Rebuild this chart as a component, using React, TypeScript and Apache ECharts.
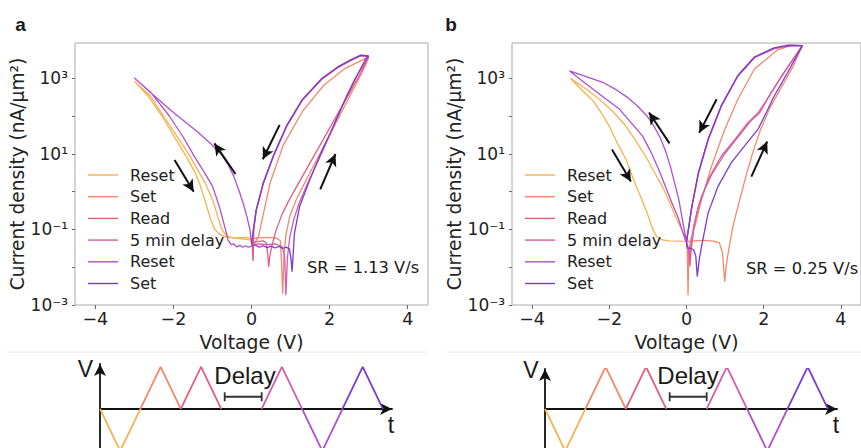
import { useEffect, useRef } from "react";
import * as echarts from "echarts";

// [voltage (V), log10 of current density (nA/µm²)]
type Pt = [number, number];

const FONT = "'DejaVu Sans', 'Noto Sans', sans-serif";
const SANS = "'Liberation Sans', Arial, sans-serif";

const sweepLabels = ["Reset", "Set", "Read", "5 min delay", "Reset", "Set"];
const sweepColors = ["#f8b150", "#f3896a", "#e35f7e", "#d25db0", "#b04fcf", "#7c3bcf"];
const voltageTicks = [-4, -2, 0, 2, 4];
const sweepRates = ["SR = 1.13 V/s", "SR = 0.25 V/s"];
const LOG_MIN = -3;
const LOG_MAX = 3.94;

// ---- panel a, SR = 1.13 V/s ----
const aReset1: Pt[] = [
  [0, -1.28], [-0.25, -1.25], [-0.5, -1.22], [-0.65, -1.15], [-0.75, -1.02], [-0.85, -0.72],
  [-0.97, -0.28], [-1.18, 0.22], [-1.4, 0.62], [-1.57, 0.93], [-1.85, 1.38], [-2.2, 1.92],
  [-2.6, 2.55], [-3, 2.93],
  [-2.66, 2.55], [-2.29, 2.0], [-2.0, 1.5], [-1.67, 0.93], [-1.45, 0.52], [-1.33, 0.22],
  [-1.17, -0.3], [-1.05, -0.72], [-0.95, -0.98], [-0.82, -1.13], [-0.65, -1.2], [-0.4, -1.22],
  [-0.15, -1.21], [0, -1.24],
];
const aSet1: Pt[] = [
  [0, -1.24], [0.2, -1.22], [0.45, -1.21], [0.65, -1.23], [0.74, -1.3], [0.77, -1.9], [0.8, -2.7],
  [0.83, -1.7], [0.88, -1.15], [0.98, -0.65], [1.15, -0.2], [1.42, 0.35], [1.7, 0.9], [2.0, 1.5],
  [2.3, 2.1], [2.6, 2.7], [2.85, 3.2], [3, 3.55],
  [2.94, 3.54], [2.4, 3.27], [1.85, 2.82], [1.3, 2.12], [0.82, 1.25], [0.48, 0.25], [0.28, -0.7],
  [0.18, -1.18], [0.1, -1.33], [0.05, -1.38], [0.04, -1.85], [0.02, -1.38], [0, -1.36],
];
const aRead: Pt[] = [
  [0, -1.36], [0.15, -1.32], [0.3, -1.3], [0.38, -1.36], [0.42, -1.7], [0.44, -1.99], [0.47, -1.7],
  [0.52, -1.45], [0.62, -1.05], [0.78, -0.6], [1.0, -0.15], [1.3, 0.4], [1.6, 0.95], [1.9, 1.5],
  [2.2, 2.05], [2.5, 2.6], [2.8, 3.15], [3, 3.58],
  [2.8, 3.6], [2.55, 3.48], [2.2, 3.28], [1.8, 2.98], [1.3, 2.42], [0.9, 1.73], [0.57, 0.96],
  [0.3, 0.21], [0.12, -0.5], [0.06, -1.0], [0.05, -1.4], [0.04, -1.8], [0.02, -1.4], [0, -1.4],
];
const aDelay: Pt[] = [
  [0, -1.4], [0.2, -1.38], [0.4, -1.4], [0.6, -1.38], [0.78, -1.45], [0.85, -1.7], [0.88, -2.74],
  [0.92, -1.75], [0.98, -1.2], [1.08, -0.75], [1.22, -0.3], [1.45, 0.25], [1.72, 0.85], [2.0, 1.5],
  [2.32, 2.25], [2.63, 2.95], [2.87, 3.35], [3, 3.58],
  [2.8, 3.61], [2.55, 3.49], [2.2, 3.29], [1.8, 2.99], [1.3, 2.43], [0.9, 1.74], [0.57, 0.97],
  [0.3, 0.22], [0.12, -0.5], [0.05, -1.0], [0.02, -1.38], [0, -1.38],
];
const aReset2: Pt[] = [
  [0, -1.38], [-0.04, -1.0], [-0.12, -0.65], [-0.2, -0.35], [-0.31, 0.0], [-0.45, 0.4],
  [-0.6, 0.72], [-0.78, 1.0], [-1.05, 1.28], [-1.4, 1.6], [-2.0, 2.1], [-2.5, 2.55], [-3, 3.01],
  [-2.57, 2.62], [-2.1, 2.0], [-1.75, 1.45], [-1.46, 0.93], [-1.2, 0.5], [-1.0, 0.15],
  [-0.82, -0.4], [-0.68, -0.95], [-0.6, -1.28], [-0.52, -1.4], [-0.45, -1.38], [-0.38, -1.46],
  [-0.3, -1.42], [-0.22, -1.47], [-0.15, -1.43], [-0.08, -1.47], [0, -1.44],
];
const aSet2: Pt[] = [
  [0, -1.44], [0.1, -1.41], [0.2, -1.47], [0.3, -1.43], [0.4, -1.48], [0.5, -1.44], [0.6, -1.49],
  [0.7, -1.45], [0.8, -1.5], [0.9, -1.47], [0.97, -1.52], [1.01, -1.75], [1.04, -2.12],
  [1.07, -1.6], [1.1, -1.1], [1.23, -0.4], [1.49, 0.31], [1.74, 0.93], [2.09, 1.72], [2.43, 2.52],
  [2.73, 3.14], [2.94, 3.54], [3, 3.6],
  [2.8, 3.62], [2.55, 3.5], [2.2, 3.3], [1.8, 3.0], [1.3, 2.44], [0.9, 1.75], [0.57, 0.98],
  [0.3, 0.23], [0.12, -0.48], [0.05, -1.0], [0, -1.38],
];

// ---- panel b, SR = 0.25 V/s ----
const bReset1: Pt[] = [
  [0, -1.3], [-0.03, -1.27], [-0.15, -0.95], [-0.29, -0.65], [-0.45, -0.25], [-0.63, 0.15],
  [-0.85, 0.55], [-1.06, 0.94], [-1.3, 1.33], [-1.57, 1.74], [-1.9, 2.12], [-2.26, 2.45],
  [-2.6, 2.72], [-3, 3.0],
  [-2.7, 2.68], [-2.43, 2.42], [-2.2, 2.08], [-2.0, 1.74], [-1.8, 1.3], [-1.57, 0.86],
  [-1.4, 0.4], [-1.23, -0.03], [-1.1, -0.35], [-1.02, -0.56], [-0.89, -0.95], [-0.78, -1.18],
  [-0.65, -1.27], [-0.46, -1.3], [-0.2, -1.31], [0, -1.32],
];
const bSet1: Pt[] = [
  [0, -1.32], [0.2, -1.3], [0.45, -1.29], [0.7, -1.31], [0.85, -1.35], [0.93, -1.6], [0.99, -2.38],
  [1.03, -1.95], [1.08, -1.62], [1.2, -0.92], [1.38, -0.21], [1.55, 0.45], [1.72, 1.05],
  [1.9, 1.6], [2.15, 2.2], [2.45, 2.75], [2.75, 3.3], [3, 3.87],
  [2.7, 3.87], [2.36, 3.76], [1.76, 3.25], [1.33, 2.45], [0.99, 1.65], [0.65, 0.68], [0.39, -0.21],
  [0.22, -0.9], [0.1, -1.3], [0.06, -1.6], [0.04, -2.74], [0.02, -1.5], [0, -1.35],
];
const bRead: Pt[] = [
  [0, -1.35], [0.06, -1.55], [0.09, -1.98], [0.12, -1.55], [0.2, -0.9], [0.31, -0.39],
  [0.56, 0.32], [0.9, 0.94], [1.25, 1.38], [1.59, 1.83], [1.85, 2.09], [2.06, 2.4], [2.36, 2.89],
  [2.7, 3.42], [3, 3.87],
  [2.7, 3.88], [2.27, 3.8], [1.76, 3.56], [1.33, 3.07], [0.9, 2.27], [0.56, 1.38], [0.31, 0.5],
  [0.14, -0.39], [0.05, -1.0], [0, -1.32],
];
const bDelay: Pt[] = [
  [0, -1.32], [0.05, -1.5], [0.08, -1.75], [0.11, -1.45], [0.18, -0.95], [0.28, -0.5], [0.4, -0.1],
  [0.65, 0.45], [1.0, 1.02], [1.35, 1.47], [1.65, 1.86], [1.9, 2.1], [2.12, 2.5], [2.42, 3.0],
  [2.74, 3.48], [3, 3.87],
  [2.7, 3.87], [2.27, 3.79], [1.76, 3.55], [1.33, 3.06], [0.9, 2.26], [0.56, 1.37], [0.31, 0.49],
  [0.14, -0.4], [0.05, -1.0], [0, -1.32],
];
const bReset2: Pt[] = [
  [0, -1.32], [-0.06, -1.0], [-0.2, -0.2], [-0.3, 0.2], [-0.42, 0.68], [-0.55, 1.1], [-0.68, 1.43],
  [-0.85, 1.75], [-1.02, 2.0], [-1.25, 2.25], [-1.53, 2.5], [-1.85, 2.72], [-2.17, 2.9],
  [-3.03, 3.2],
  [-2.43, 2.72], [-1.74, 2.19], [-1.14, 1.48], [-0.92, 1.05], [-0.72, 0.59], [-0.55, 0.15],
  [-0.38, -0.29], [-0.22, -0.68], [-0.12, -0.99], [-0.02, -1.3], [0, -1.35],
];
const bSet2: Pt[] = [
  [0, -1.35], [0.02, -1.49], [0.1, -1.5], [0.18, -1.53], [0.24, -1.7], [0.28, -2.25], [0.33, -1.8],
  [0.39, -1.45], [0.56, -0.56], [0.82, 0.15], [1.16, 0.77], [1.5, 1.21], [1.85, 1.65], [2.02, 2.0],
  [2.27, 2.53], [2.62, 3.16], [3, 3.87],
  [2.6, 3.88], [2.27, 3.81], [1.76, 3.57], [1.33, 3.08], [0.9, 2.28], [0.56, 1.39], [0.31, 0.51],
  [0.14, -0.38], [0.04, -1.05], [0, -1.32],
];

const panelA: Pt[][] = [aReset1, aSet1, aRead, aDelay, aReset2, aSet2];
const panelB: Pt[][] = [bReset1, bSet1, bRead, bDelay, bReset2, bSet2];

// sweep-direction arrows: [tail, head]
const arrowsA: [Pt, Pt][] = [
  [[-1.97, 0.84], [-1.48, 0.0]],
  [[-0.41, 0.47], [-0.95, 1.28]],
  [[0.72, 1.77], [0.29, 0.86]],
  [[1.76, 0.06], [2.15, 1.0]],
];
const arrowsB: [Pt, Pt][] = [
  [[-1.93, 1.12], [-1.44, 0.27]],
  [[-0.44, 1.28], [-0.97, 2.1]],
  [[0.78, 2.45], [0.33, 1.56]],
  [[1.68, 0.4], [2.09, 1.33]],
];

// applied voltage waveform: [time in quarter periods, normalised voltage]
const waveSegments: Pt[][] = [
  [[0, 0], [1, -1], [2, 0]],
  [[2, 0], [3, 1], [4, 0]],
  [[4, 0], [5, 1], [6, 0]],
  [[8, 0], [9, 1], [10, 0]],
  [[10, 0], [11, -1], [12, 0]],
  [[12, 0], [13, 1], [14, 0]],
];
const delaySpan: Pt[] = [[6.17, 0.29], [8.0, 0.29]];

const SUP: Record<string, string> = { "-": "\u207B", "0": "\u2070", "1": "\u00B9", "2": "\u00B2", "3": "\u00B3" };
const decadeLabel = (e: number) =>
  e % 2 !== 0 ? "10" + String(e).split("").map((c) => SUP[c]).join("") : "";
const voltLabel = (v: number) => (v < 0 ? "\u2212" + Math.abs(v) : String(v));

function ivAxes(idx: number) {
  const x = {
    type: "value", gridIndex: idx, min: -4.52, max: 4.52,
    name: "Voltage (V)", nameLocation: "middle", nameGap: 23,
    nameTextStyle: { fontFamily: FONT, fontSize: 18.8, color: "#222" },
    axisLine: { show: false, onZero: false },
    axisTick: { show: true, customValues: voltageTicks, length: 4, lineStyle: { color: "#666" } },
    axisLabel: { customValues: voltageTicks, formatter: voltLabel, fontFamily: FONT, fontSize: 17.5, color: "#222", margin: 5 },
    splitLine: { show: false },
  };
  const y = {
    type: "value", gridIndex: idx, min: LOG_MIN, max: LOG_MAX, interval: 1,
    name: "Current density (nA/\u03BCm\u00B2)", nameLocation: "middle", nameGap: 39, nameRotate: 90,
    nameTextStyle: { fontFamily: FONT, fontSize: 18.6, color: "#222" },
    axisLine: { show: false, onZero: false },
    axisTick: { show: true, length: 3, lineStyle: { color: "#666" } },
    axisLabel: { formatter: decadeLabel, fontFamily: FONT, fontSize: 17, color: "#222", margin: 7, showMaxLabel: false },
    splitLine: { show: false },
  };
  return { x, y };
}

function waveAxes(idx: number, vMax: number) {
  const arrowLine = { show: true, symbol: ["none", "arrow"], symbolSize: [9, 12], lineStyle: { color: "#111", width: 1.8 } };
  const x = {
    type: "value", gridIndex: idx, min: 0, max: 14.45,
    axisLine: { ...arrowLine, onZero: true },
    axisTick: { show: false }, axisLabel: { show: false }, splitLine: { show: false },
  };
  const y = {
    type: "value", gridIndex: idx, min: -0.93, max: vMax,
    axisLine: { ...arrowLine, onZero: true },
    axisTick: { show: false }, axisLabel: { show: false }, splitLine: { show: false },
  };
  return { x, y };
}

function sweepSeries(prefix: string, curves: Pt[][], axis: number, arrows: [Pt, Pt][]) {
  return curves.map((d, i) => ({
    type: "line",
    name: prefix + i,
    xAxisIndex: axis,
    yAxisIndex: axis,
    data: d,
    symbol: "none",
    silent: true,
    lineStyle: { color: sweepColors[i], width: 1.3 },
    itemStyle: { color: sweepColors[i] },
    emphasis: { disabled: true },
    ...(i === curves.length - 1
      ? {
          markLine: {
            silent: true,
            symbol: ["none", "arrow"],
            symbolSize: [9, 12],
            label: { show: false },
            lineStyle: { color: "#111", width: 2, type: "solid" },
            emphasis: { disabled: true },
            data: arrows.map(([p, q]) => [{ coord: p }, { coord: q }]),
          },
        }
      : {}),
  }));
}

function waveSeries(axis: number) {
  const segs = waveSegments.map((d, i) => ({
    type: "line",
    xAxisIndex: axis,
    yAxisIndex: axis,
    data: d,
    symbol: "none",
    silent: true,
    lineStyle: { color: sweepColors[i], width: 1.8 },
    emphasis: { disabled: true },
  }));
  const bracket = {
    type: "line",
    xAxisIndex: axis,
    yAxisIndex: axis,
    data: delaySpan,
    symbol: "rect",
    symbolSize: [1.8, 9],
    showSymbol: true,
    silent: true,
    lineStyle: { color: "#333", width: 1.8 },
    itemStyle: { color: "#333" },
    emphasis: { disabled: true },
  };
  return [...segs, bracket];
}

function legendFor(prefix: string, left: number) {
  return {
    data: sweepLabels.map((_, i) => prefix + i),
    orient: "vertical",
    left,
    top: 167,
    padding: 0,
    icon: "rect",
    itemWidth: 30,
    itemHeight: 1.4,
    itemGap: 5.7,
    selectedMode: false,
    formatter: (name: string) => sweepLabels[Number(name.slice(prefix.length))],
    textStyle: { fontFamily: FONT, fontSize: 16, color: "#222", lineHeight: 16, padding: [0, 0, 0, 7] },
  };
}

const text = (x: number, y: number, t: string, size: number, family: string, align = "center", weight = "normal") => ({
  type: "text",
  x,
  y,
  silent: true,
  style: { text: t, fill: "#1a1a1a", fontSize: size, fontFamily: family, fontWeight: weight, align, verticalAlign: "middle" },
});

export default function App() {
  const ref = useRef<HTMLDivElement>(null);

  useEffect(() => {
    if (!ref.current) return;
    const chart = echarts.init(ref.current, undefined, { renderer: "svg" });
    const a = ivAxes(0);
    const b = ivAxes(1);
    const wa = waveAxes(2, 1.07);
    const wb = waveAxes(3, 0.95);

    chart.setOption({
      animation: false,
      backgroundColor: "#ffffff",
      grid: [
        { left: 75, top: 43, width: 353, height: 262, show: true, borderColor: "#aaa", borderWidth: 1 },
        { left: 512, top: 43, width: 352, height: 262, show: true, borderColor: "#aaa", borderWidth: 1 },
        { left: 100, top: 364, width: 292, height: 84 },
        { left: 545, top: 369, width: 292, height: 79 },
      ],
      xAxis: [a.x, b.x, wa.x, wb.x],
      yAxis: [a.y, b.y, wa.y, wb.y],
      legend: [legendFor("a", 88), legendFor("b", 525)],
      series: [
        ...sweepSeries("a", panelA, 0, arrowsA),
        ...sweepSeries("b", panelB, 1, arrowsB),
        ...waveSeries(2),
        ...waveSeries(3),
      ],
      graphic: [
        { type: "line", silent: true, shape: { x1: 7, y1: 352, x2: 427, y2: 352 }, style: { stroke: "#e8e8e8", lineWidth: 1 } },
        { type: "line", silent: true, shape: { x1: 447, y1: 352, x2: 861, y2: 352 }, style: { stroke: "#e8e8e8", lineWidth: 1 } },
        text(20.5, 24, "a", 19, SANS, "center", "bold"),
        text(451, 24, "b", 19, SANS, "center", "bold"),
        text(307, 267, sweepRates[0], 16.3, FONT, "left"),
        text(746, 268, sweepRates[1], 16.3, FONT, "left"),
        text(245, 375, "Delay", 24, SANS),
        text(688, 375, "Delay", 24, SANS),
        text(85.5, 368.5, "V", 23, SANS),
        text(531, 369.5, "V", 23, SANS),
        text(391, 424.5, "t", 23, SANS),
        text(836, 424.5, "t", 23, SANS),
      ],
    });
    return () => chart.dispose();
  }, []);

  return <div ref={ref} style={{ position: "absolute", left: 0, top: 0, width: 861, height: 448 }} />;
}
